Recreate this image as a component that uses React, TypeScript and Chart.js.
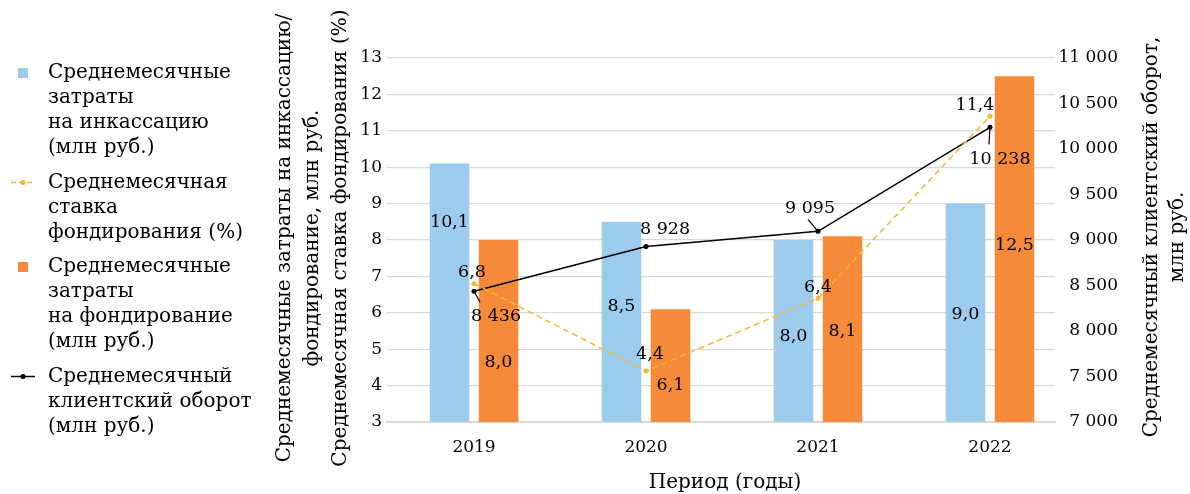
import React, { useEffect, useRef } from 'react';
import { Chart, registerables } from 'chart.js';

Chart.register(...registerables);

// ---------- data ----------
const categories = ['2019', '2020', '2021', '2022'];
const collectionCosts = [10.1, 8.5, 8.0, 9.0]; // млн руб.
const fundingRate = [6.8, 4.4, 6.4, 11.4]; // %
const fundingCosts = [8.0, 6.1, 8.1, 12.5]; // млн руб.
const clientTurnover = [8436, 8928, 9095, 10238]; // млн руб.

const leftAxisRange = [3, 13];
const leftAxisStep = 1;
const rightAxisRange = [7000, 11000];
const rightAxisStep = 500;

const legendCollection = ['Среднемесячные', 'затраты', 'на инкассацию', '(млн руб.)'];
const legendRate = ['Среднемесячная', 'ставка', 'фондирования (%)'];
const legendFunding = ['Среднемесячные', 'затраты', 'на фондирование', '(млн руб.)'];
const legendTurnover = ['Среднемесячный', 'клиентский оборот', '(млн руб.)'];

const leftTitle = [
  'Среднемесячные затраты на инкассацию/',
  'фондирование, млн руб.',
  'Среднемесячная ставка фондирования (%)',
];
const rightTitle = ['Среднемесячный клиентский оборот,', 'млн руб.'];
const xTitle = 'Период (годы)';

// ---------- styles ----------
const FONT = "'DejaVu Serif', serif";
const BLUE = '#9DCBEE';
const ORANGE = '#F58A3A';
const YELLOW = '#F5B82E';
const BLACK = '#000000';
const GRID = '#d9d9d9';

// label placement offsets (px) relative to the bar top / point
const barLabelDy = {
  collection: [59, 85, 96, 111],
  funding: [122, 76, 95, 169],
};
const rateLabelOffset = [[-2, -11], [4, -17], [0, -11], [-15, -11]];
const turnoverLabelOffset = [[22, 25], [19, -17], [-8, -23], [10, 32]];
const turnoverLeader: (number[] | null)[] = [[6, 11], null, [-10, -12], [-1, 17]];

const fmtDec = (v: number) => v.toFixed(1).replace('.', ',');
const fmtThousands = (v: number) => String(Math.round(v)).replace(/\B(?=(\d{3})+(?!\d))/g, ' ');

const toXY = (arr: number[]) => arr.map((v, i) => ({ x: i, y: v }));

const overlayPlugin = {
  id: 'overlay',
  afterDraw(chart: any) {
    const ctx: CanvasRenderingContext2D = chart.ctx;
    const area = chart.chartArea;
    ctx.save();
    ctx.fillStyle = '#000';
    ctx.strokeStyle = '#000';

    // ---- data labels ----
    ctx.font = `17.5px ${FONT}`;
    ctx.textAlign = 'center';
    ctx.textBaseline = 'middle';
    const mBlue = chart.getDatasetMeta(0);
    const mRate = chart.getDatasetMeta(1);
    const mOrange = chart.getDatasetMeta(2);
    const mTurn = chart.getDatasetMeta(3);
    mBlue.data.forEach((el: any, i: number) => {
      ctx.fillText(fmtDec(collectionCosts[i]), el.x, el.y + barLabelDy.collection[i]);
    });
    mOrange.data.forEach((el: any, i: number) => {
      ctx.fillText(fmtDec(fundingCosts[i]), el.x, el.y + barLabelDy.funding[i]);
    });
    mRate.data.forEach((el: any, i: number) => {
      const [dx, dy] = rateLabelOffset[i];
      ctx.fillText(fmtDec(fundingRate[i]), el.x + dx, el.y + dy);
    });
    mTurn.data.forEach((el: any, i: number) => {
      const [dx, dy] = turnoverLabelOffset[i];
      const ld = turnoverLeader[i];
      if (ld) {
        ctx.lineWidth = 1.2;
        ctx.beginPath();
        ctx.moveTo(el.x, el.y);
        ctx.lineTo(el.x + ld[0], el.y + ld[1]);
        ctx.stroke();
      }
      ctx.fillText(fmtThousands(clientTurnover[i]), el.x + dx, el.y + dy);
    });

    // ---- axis titles ----
    ctx.font = `20px ${FONT}`;
    const cy = (area.top + area.bottom) / 2;
    const drawRot = (text: string, x: number, y: number) => {
      ctx.save();
      ctx.translate(x, y);
      ctx.rotate(-Math.PI / 2);
      ctx.fillText(text, 0, 0);
      ctx.restore();
    };
    const leftX = [285, 313, 341];
    leftTitle.forEach((t, i) => drawRot(t, leftX[i], cy - 2));
    const rightX = [1152, 1178];
    rightTitle.forEach((t, i) => drawRot(t, rightX[i], cy - 3));
    ctx.fillText(xTitle, (area.left + area.right) / 2 + 4, 483);

    // ---- legend ----
    const items = [
      { lines: legendCollection, kind: 'box', color: BLUE },
      { lines: legendRate, kind: 'dash', color: YELLOW },
      { lines: legendFunding, kind: 'box', color: ORANGE },
      { lines: legendTurnover, kind: 'line', color: BLACK },
    ];
    ctx.textAlign = 'left';
    let y = 73;
    const lh = 25;
    items.forEach((it) => {
      if (it.kind === 'box') {
        ctx.fillStyle = it.color;
        ctx.fillRect(18, y - 5, 10, 10);
      } else {
        ctx.strokeStyle = it.color;
        ctx.lineWidth = 1.5;
        ctx.setLineDash(it.kind === 'dash' ? [5, 3] : []);
        ctx.beginPath();
        ctx.moveTo(11, y);
        ctx.lineTo(35, y);
        ctx.stroke();
        ctx.setLineDash([]);
        ctx.fillStyle = it.color;
        ctx.beginPath();
        ctx.arc(23, y, 2.5, 0, Math.PI * 2);
        ctx.fill();
      }
      ctx.fillStyle = '#000';
      it.lines.forEach((l, k) => ctx.fillText(l, 48, y + k * lh));
      y += it.lines.length * lh + 9.5;
    });
    ctx.restore();
  },
};

export default function App() {
  const ref = useRef<HTMLCanvasElement>(null);
  useEffect(() => {
    document.body.style.margin = '0';
    Chart.defaults.font.family = FONT;
    Chart.defaults.font.size = 17;
    Chart.defaults.color = '#000';
    const chart = new Chart(ref.current as HTMLCanvasElement, {
      type: 'bar',
      data: {
        datasets: [
          {
            type: 'bar',
            label: legendCollection.join(' '),
            data: toXY(collectionCosts),
            backgroundColor: BLUE,
            yAxisID: 'y',
            order: 2,
            categoryPercentage: 0.57,
            barPercentage: 0.806,
          },
          {
            type: 'line',
            label: legendRate.join(' '),
            data: toXY(fundingRate),
            borderColor: YELLOW,
            backgroundColor: YELLOW,
            borderDash: [6, 4],
            borderWidth: 1.5,
            pointRadius: 2.5,
            pointBorderWidth: 0,
            yAxisID: 'y',
            order: 0,
          },
          {
            type: 'bar',
            label: legendFunding.join(' '),
            data: toXY(fundingCosts),
            backgroundColor: ORANGE,
            yAxisID: 'y',
            order: 2,
            categoryPercentage: 0.57,
            barPercentage: 0.806,
          },
          {
            type: 'line',
            label: legendTurnover.join(' '),
            data: toXY(clientTurnover),
            borderColor: BLACK,
            backgroundColor: BLACK,
            borderWidth: 1.5,
            pointRadius: 2.5,
            pointBorderWidth: 0,
            yAxisID: 'y1',
            order: 0,
          },
        ] as any,
      },
      options: {
        responsive: false,
        animation: false,
        layout: { padding: { left: 0, right: 72, top: 58, bottom: 0 } },
        plugins: { legend: { display: false }, tooltip: { enabled: false } },
        scales: {
          x: {
            type: 'linear',
            min: -0.506,
            max: 3.378,
            offset: false,
            grid: { display: false, drawTicks: false, offset: false },
            border: { display: true, color: GRID, width: 2 },
            afterBuildTicks: (s: any) => {
              s.ticks = categories.map((_, i) => ({ value: i }));
            },
            ticks: {
              padding: 15,
              autoSkip: false,
              maxRotation: 0,
              callback: (v: any) => categories[v as number],
            },
            afterFit: (s: any) => {
              s.height = 72;
            },
          },
          y: {
            position: 'left',
            min: leftAxisRange[0],
            max: leftAxisRange[1],
            ticks: { stepSize: leftAxisStep, padding: 5 },
            grid: { color: GRID, lineWidth: 1.3, drawTicks: false },
            border: { display: false },
            afterFit: (s: any) => {
              s.width = 387;
            },
          },
          y1: {
            position: 'right',
            min: rightAxisRange[0],
            max: rightAxisRange[1],
            ticks: {
              stepSize: rightAxisStep,
              crossAlign: 'far',
              callback: (v: any) => fmtThousands(v as number),
            },
            grid: { display: false, drawTicks: false },
            border: { display: false },
            afterFit: (s: any) => {
              s.width = 63;
            },
          },
        } as any,
      },
      plugins: [overlayPlugin],
    });
    return () => chart.destroy();
  }, []);
  return (
    <div style={{ width: 1190, height: 494 }}>
      <canvas ref={ref} width={1190} height={494} style={{ display: 'block' }} />
    </div>
  );
}
